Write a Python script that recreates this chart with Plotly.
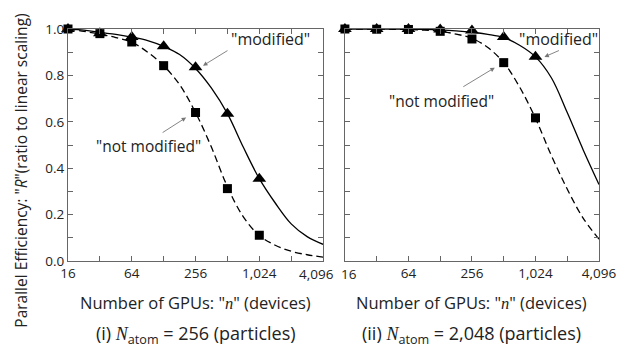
import plotly.graph_objects as go

# ---------------- data ----------------
n_points = [16, 32, 64, 128, 256, 512, 1024]

# (i) N_atom = 256
left_mod = [1.0, 0.982, 0.965, 0.926, 0.835, 0.635, 0.354]
left_not = [1.0, 0.980, 0.944, 0.842, 0.640, 0.312, 0.111]

# (ii) N_atom = 2,048
right_mod = [1.0, 1.0, 1.0, 0.998, 0.993, 0.965, 0.880]
right_not = [1.0, 0.999, 0.998, 0.990, 0.957, 0.855, 0.617]

# fitted curves (half-octave steps)
n_curve = [16, 22.6, 32, 45.3, 64, 90.5, 128, 181, 256, 362, 512, 724, 1024, 1448, 2048, 2896, 4096]
left_mod_curve = [1.0, 0.995, 0.985, 0.977, 0.965, 0.95, 0.925, 0.89, 0.83, 0.745, 0.635, 0.49,
                  0.355, 0.25, 0.16, 0.105, 0.072]
left_not_curve = [1.0, 0.99, 0.978, 0.963, 0.943, 0.90, 0.842, 0.76, 0.64, 0.49, 0.32, 0.19,
                  0.11, 0.068, 0.042, 0.027, 0.017]
right_mod_curve = [1.0, 1.0, 1.0, 1.0, 0.999, 0.998, 0.996, 0.992, 0.986, 0.977, 0.963, 0.93,
                   0.88, 0.79, 0.64, 0.48, 0.33]
right_not_curve = [1.0, 1.0, 1.0, 0.999, 0.998, 0.995, 0.99, 0.978, 0.96, 0.92, 0.855, 0.75,
                   0.615, 0.455, 0.31, 0.185, 0.094]

x_tickvals = [16, 32, 64, 128, 256, 512, 1024, 2048, 4096]
x_ticktext_left = ["16", "", "64", "", "256", "", "1,024", "", ""]
x_ticktext_right = ["", "", "64", "", "256", "", "1,024", "", "4,096"]
edge_label_left = "4,096"   # left panel's last tick label (nudged left)
edge_label_right = "16"     # right panel's first tick label (nudged right)
y_tickvals = [0.0, 0.1, 0.2, 0.3, 0.4, 0.5, 0.6, 0.7, 0.8, 0.9, 1.0]
y_ticktext = ["0.0", "", "0.2", "", "0.4", "", "0.6", "", "0.8", "", "1.0"]

FONT = "Open Sans, Noto Sans, sans-serif"
SERIF = "Liberation Serif, DejaVu Serif, serif"

OFF = 8  # page body margin
W, H = 628 - OFF, 349 - OFF
L, R, T, B = 68 - OFF, 25, 23.5 - OFF, 88.3
PW = W - L - R
PH = H - T - B

fig = go.Figure()

panels = [
    ("x", "y", left_mod, left_not, left_mod_curve, left_not_curve),
    ("x2", "y2", right_mod, right_not, right_mod_curve, right_not_curve),
]
for xa, ya, mod, notm, modc, notc in panels:
    fig.add_trace(go.Scatter(x=n_curve, y=notc, mode="lines", xaxis=xa, yaxis=ya,
                             line=dict(color="black", width=1.3, dash="7px,4px", shape="spline"),
                             showlegend=False, hoverinfo="skip"))
    fig.add_trace(go.Scatter(x=n_curve, y=modc, mode="lines", xaxis=xa, yaxis=ya,
                             line=dict(color="black", width=1.3, shape="spline"),
                             showlegend=False, hoverinfo="skip"))
    fig.add_trace(go.Scatter(x=n_points, y=notm, mode="markers", xaxis=xa, yaxis=ya,
                             marker=dict(symbol="square", size=9, color="black"),
                             cliponaxis=False, showlegend=False))
    fig.add_trace(go.Scatter(x=n_points, y=mod, mode="markers", xaxis=xa, yaxis=ya,
                             marker=dict(symbol="triangle-up", size=12, color="black"),
                             cliponaxis=False, showlegend=False))

TICKSIZE = 13.5
axis_common = dict(showgrid=False, zeroline=False, showline=True, linecolor="#666",
                   linewidth=1, mirror="ticks", ticks="inside", ticklen=5, tickcolor="#666",
                   tickfont=dict(family=FONT, size=TICKSIZE, color="#222"))

d1 = (325 - 68) / PW
d2 = (347 - 68) / PW
fig.update_layout(
    width=W, height=H,
    margin=dict(l=L, r=R, t=T, b=B),
    paper_bgcolor="white", plot_bgcolor="white",
    xaxis=dict(type="log", range=[1.2041, 3.6124], domain=[0, d1], tickvals=x_tickvals,
               ticktext=x_ticktext_left, anchor="y", **axis_common),
    xaxis2=dict(type="log", range=[1.2041, 3.6124], domain=[d2, 1], tickvals=x_tickvals,
                ticktext=x_ticktext_right, anchor="y2", **axis_common),
    yaxis=dict(range=[0, 1], domain=[0, 1], tickvals=y_tickvals, ticktext=y_ticktext,
               anchor="x", **axis_common),
    yaxis2=dict(range=[0, 1], domain=[0, 1], tickvals=y_tickvals,
                ticktext=[""] * len(y_tickvals), anchor="x2", **axis_common),
)


# reference-pixel -> paper coordinates
def px(xp):
    return (xp - OFF - L) / PW


def py(yp):
    return (H - B - (yp - OFF)) / PH


def text(xp, yp, s, size=14, angle=0):
    fig.add_annotation(x=px(xp), y=py(yp), xref="paper", yref="paper", text=s,
                       showarrow=False, textangle=angle, xanchor="center", yanchor="middle",
                       font=dict(family=FONT, size=size, color="#222"))


def arrow(x0, y0, x1, y1):
    fig.add_annotation(x=px(x1), y=py(y1), xref="paper", yref="paper", text="",
                       showarrow=True, ax=x0 - x1, ay=y0 - y1, arrowhead=2, arrowsize=1,
                       arrowwidth=0.9, arrowcolor="#777", standoff=0)


# the two tick labels that meet between the panels
text(318, 274, edge_label_left, TICKSIZE)
text(351, 274, edge_label_right, TICKSIZE)

# panel labels
text(272, 34, '"modified"', 16)
arrow(230, 45, 204, 61)
text(149, 143, '"not modified"', 15.5)
arrow(162, 130, 187, 114)

text(562, 34, '"modified"', 16)
arrow(564, 45, 548, 52)
text(444, 97, '"not modified"', 15.5)
arrow(465, 83, 498, 63)

nit = '<span style="font-family:%s"><i>n</i></span>' % SERIF
Nit = '<span style="font-family:%s"><i>N</i></span>' % SERIF
text(196.5, 303, 'Number of GPUs: "%s" (devices)' % nit, 16.5)
text(475, 303, 'Number of GPUs: "%s" (devices)' % nit, 16.5)
text(196.5, 336, '(i) %s<sub>atom</sub> = 256 (particles)' % Nit, 18)
text(475, 336, '(ii) %s<sub>atom</sub> = 2,048 (particles)' % Nit, 18)

text(21, 168, 'Parallel Efficiency: "<i>R</i>"(ratio to linear scaling)', 15.5, angle=-90)

fig.write_html("out.html")
